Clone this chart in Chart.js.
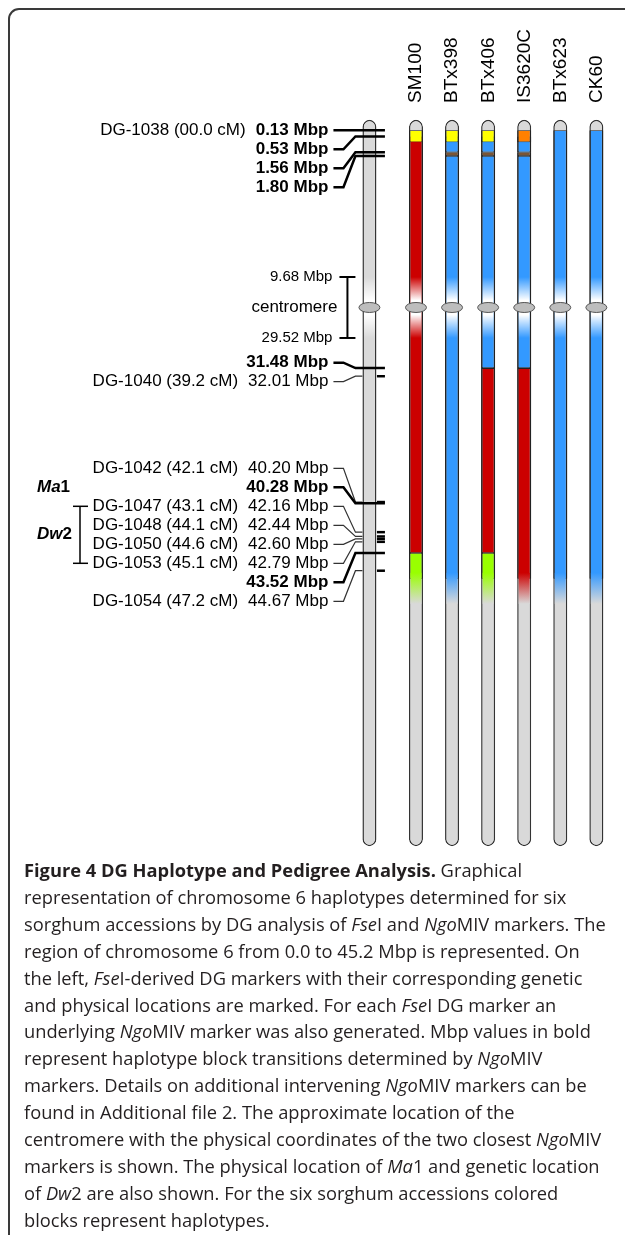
<!DOCTYPE html>
<html>
<head>
<meta charset="utf-8">
<script src="https://cdn.jsdelivr.net/npm/chart.js@4.4.1/dist/chart.umd.min.js"></script>
<style>
  html, body { margin: 0; padding: 0; background: #fff; }
  body { width: 625px; height: 1235px; overflow: hidden; position: relative; }
  #frame { position: absolute; left: 8px; top: 8px; width: 700px; height: 1300px;
           border: 2px solid #3a3a3a; border-radius: 11px; box-sizing: border-box; }
  #chart { position: absolute; left: 0; top: 0; }
  #caption { position: absolute; left: 24px; top: 857px; font-family: "Open Sans", sans-serif;
             font-size: 18.3px; line-height: 26.9px; color: #231f20; white-space: nowrap; }
</style>
</head>
<body>
<div id="frame"></div>
<canvas id="chart" width="625" height="860"></canvas>
<div id="caption">
<b>Figure 4 DG Haplotype and Pedigree Analysis.</b> Graphical<br>
representation of chromosome 6 haplotypes determined for six<br>
sorghum accessions by DG analysis of <i>Fse</i>I and <i>Ngo</i>MIV markers. The<br>
region of chromosome 6 from 0.0 to 45.2 Mbp is represented. On<br>
the left, <i>Fse</i>I-derived DG markers with their corresponding genetic<br>
and physical locations are marked. For each <i>Fse</i>I DG marker an<br>
underlying <i>Ngo</i>MIV marker was also generated. Mbp values in bold<br>
represent haplotype block transitions determined by <i>Ngo</i>MIV<br>
markers. Details on additional intervening <i>Ngo</i>MIV markers can be<br>
found in Additional file 2. The approximate location of the<br>
centromere with the physical coordinates of the two closest <i>Ngo</i>MIV<br>
markers is shown. The physical location of <i>Ma</i>1 and genetic location<br>
of <i>Dw</i>2 are also shown. For the six sorghum accessions colored<br>
blocks represent haplotypes.
</div>
<script>
// accessions shown as columns
const accessions = ['SM100', 'BTx398', 'BTx406', 'IS3620C', 'BTx623', 'CK60'];

// haplotype blocks per accession: [start Mbp, end Mbp, haplotype id]
const blocksSM100 = [[0.13, 0.53, 'h1'], [0.53, 43.52, 'h3'], [43.52, 45.2, 'h6']];
const blocksBTx398 = [[0.13, 0.53, 'h1'], [0.53, 1.56, 'h4'], [1.56, 1.80, 'h5'], [1.80, 45.2, 'h4']];
const blocksBTx406 = [[0.13, 0.53, 'h1'], [0.53, 1.56, 'h4'], [1.56, 1.80, 'h5'], [1.80, 31.48, 'h4'], [31.48, 43.52, 'h3'], [43.52, 45.2, 'h6']];
const blocksIS3620C = [[0.13, 0.53, 'h2'], [0.53, 1.56, 'h4'], [1.56, 1.80, 'h5'], [1.80, 31.48, 'h4'], [31.48, 45.2, 'h3']];
const blocksBTx623 = [[0.13, 45.2, 'h4']];
const blocksCK60 = [[0.13, 45.2, 'h4']];
const haplotypes = ['h1', 'h2', 'h3', 'h4', 'h5', 'h6'];

// markers on the reference chromosome (left side)
const markerMbp = [0.13, 0.53, 1.56, 1.80, 31.48, 32.01, 40.20, 40.28, 42.16, 42.44, 42.60, 42.79, 43.52, 44.67];
const markerDG = ['DG-1038 (00.0 cM)', '', '', '', '', 'DG-1040 (39.2 cM)', 'DG-1042 (42.1 cM)', '',
  'DG-1047 (43.1 cM)', 'DG-1048 (44.1 cM)', 'DG-1050 (44.6 cM)', 'DG-1053 (45.1 cM)', '', 'DG-1054 (47.2 cM)'];
// bold = haplotype block transition
const markerBold = [1, 1, 1, 1, 1, 0, 0, 1, 0, 0, 0, 0, 1, 0];

const centromereMbp = [9.68, 29.52];
const chromosomeMbp = [-0.55, 62.6]; // drawn extent incl. telomere caps
const regionEndMbp = 45.2;

// loci: Ma1 (physical), Dw2 (genetic interval)
const geneNames = ['Ma', 'Dw'];
const geneNums = ['1', '2'];
const geneFrom = [40.28, 42.16];
const geneTo = [40.28, 42.79];

// ---- styles ----
const HAP_COLOR = { h1: '#ffff00', h2: '#ff8000', h3: '#cc0000', h4: '#3399ff', h5: '#7a5536', h6: '#99ff00' };
const HAP_MIN_PX = { h1: 12, h2: 12 }; // short end blocks drawn a bit taller, as in the figure
const BODY_GRAY = '#d9d9d9';
const REF_COL = -1.29;
const FONT = '"Liberation Sans", Arial, sans-serif';

// the centromere region is drawn compressed
const CEN_SQUEEZE = 0.2;
function squash(v) {
  const a = centromereMbp[0], b = centromereMbp[1];
  if (v <= a) return v;
  if (v >= b) return a + (b - a) * CEN_SQUEEZE + (v - b);
  return a + (v - a) * CEN_SQUEEZE;
}

class CentromereScale extends Chart.LinearScale {
  getPixelForValue(v) {
    return v == null ? NaN : super.getPixelForValue(squash(v));
  }
}
CentromereScale.id = 'centromere';
CentromereScale.defaults = Chart.LinearScale.defaults;
Chart.register(CentromereScale);

const columnsBlocks = [blocksSM100, blocksBTx398, blocksBTx406, blocksIS3620C, blocksBTx623, blocksCK60];

// spread labels so they don't overlap, keeping them near their targets
function spreadLabels(targets, gap, minY) {
  const groups = targets.map((t, i) => ({ idx: [i], sum: t }));
  const place = g => Math.max(minY, g.sum / g.idx.length - (g.idx.length - 1) * gap / 2);
  let merged = true;
  while (merged) {
    merged = false;
    for (let k = 0; k < groups.length - 1; k++) {
      const a = groups[k], b = groups[k + 1];
      if (place(a) + a.idx.length * gap > place(b)) {
        a.idx.push(...b.idx);
        a.sum += b.sum;
        groups.splice(k + 1, 1);
        merged = true;
        break;
      }
    }
  }
  const out = [];
  groups.forEach(g => {
    const top = place(g);
    g.idx.forEach((i, j) => { out[i] = top + j * gap; });
  });
  return out;
}

function line(ctx, pts, w, color) {
  ctx.save();
  ctx.lineWidth = w;
  ctx.strokeStyle = color;
  ctx.beginPath();
  ctx.moveTo(pts[0][0], pts[0][1]);
  for (let i = 1; i < pts.length; i++) ctx.lineTo(pts[i][0], pts[i][1]);
  ctx.stroke();
  ctx.restore();
}

const karyoPlugin = {
  id: 'karyo',
  afterDatasetsDraw(chart) {
    const { ctx, scales: { x, y } } = chart;
    const half = 5.5;
    const cols = [REF_COL].concat(accessions.map((a, i) => i));
    ctx.save();

    // fade around the centromere
    const y0 = y.getPixelForValue(centromereMbp[0]);
    const y1 = y.getPixelForValue(centromereMbp[1]);
    const g = ctx.createLinearGradient(0, y0, 0, y1);
    g.addColorStop(0, 'rgba(255,255,255,0)');
    g.addColorStop(0.38, '#ffffff');
    g.addColorStop(0.62, '#ffffff');
    g.addColorStop(1, 'rgba(255,255,255,0)');
    cols.forEach(c => {
      const px = x.getPixelForValue(c);
      ctx.fillStyle = g;
      ctx.fillRect(px - half, y0, half * 2, y1 - y0);
    });

    // end of represented region fades into the gray chromosome
    const ye = y.getPixelForValue(regionEndMbp);
    columnsBlocks.forEach((blocks, i) => {
      const last = blocks[blocks.length - 1];
      const px = x.getPixelForValue(i);
      const gr = ctx.createLinearGradient(0, ye - 6, 0, ye + 25);
      gr.addColorStop(0, HAP_COLOR[last[2]]);
      gr.addColorStop(1, BODY_GRAY);
      ctx.fillStyle = gr;
      ctx.fillRect(px - half, ye - 6, half * 2, 31);
    });

    // centromere ellipses
    const yc = y.getPixelForValue((centromereMbp[0] + centromereMbp[1]) / 2);
    cols.forEach(c => {
      const px = x.getPixelForValue(c);
      ctx.beginPath();
      ctx.ellipse(px, yc, 10.5, 5, 0, 0, Math.PI * 2);
      ctx.fillStyle = '#bdbdbd';
      ctx.fill();
      ctx.lineWidth = 1;
      ctx.strokeStyle = '#555';
      ctx.stroke();
    });
    ctx.restore();
  },
  afterDraw(chart) {
    const { ctx, scales: { x, y } } = chart;
    const refX = x.getPixelForValue(REF_COL);
    const labelRight = refX - 41;
    const targets = markerMbp.map(v => y.getPixelForValue(v));
    const ly = spreadLabels(targets, 19, targets[0]);

    ctx.save();
    ctx.textBaseline = 'middle';
    ctx.fillStyle = '#000';

    markerMbp.forEach((v, i) => {
      const bold = markerBold[i] === 1;
      const txt = v.toFixed(2) + ' Mbp';
      ctx.textAlign = 'right';
      ctx.font = (bold ? 'bold ' : '') + '17px ' + FONT;
      ctx.fillText(txt, labelRight, ly[i]);
      const w = ctx.measureText(txt).width;
      if (markerDG[i]) {
        ctx.font = '17px ' + FONT;
        ctx.fillText(markerDG[i], labelRight - w - 10, ly[i]);
      }
      const ty = targets[i];
      if (bold) {
        line(ctx, [[labelRight + 5, ly[i]], [refX - 26, ly[i]], [refX - 14, ty], [refX + 15.5, ty]], 2.5, '#000');
      } else {
        line(ctx, [[labelRight + 5, ly[i]], [refX - 26, ly[i]], [refX - 14, ty], [refX - 7, ty]], 1.2, '#333');
        line(ctx, [[refX + 7.5, ty], [refX + 15.5, ty]], 2.5, '#000');
      }
    });

    // centromere bracket and labels
    const y0 = y.getPixelForValue(centromereMbp[0]);
    const y1 = y.getPixelForValue(centromereMbp[1]);
    const yc = (y0 + y1) / 2;
    line(ctx, [[refX - 30, y0], [refX - 14, y0]], 2, '#000');
    line(ctx, [[refX - 30, y1], [refX - 14, y1]], 2, '#000');
    line(ctx, [[refX - 22, y0], [refX - 22, y1]], 2, '#000');
    ctx.textAlign = 'right';
    ctx.font = '15px ' + FONT;
    ctx.fillText(centromereMbp[0].toFixed(2) + ' Mbp', refX - 37, y0);
    ctx.fillText(centromereMbp[1].toFixed(2) + ' Mbp', refX - 37, y1);
    ctx.font = '17px ' + FONT;
    ctx.fillText('centromere', refX - 32, yc);

    // loci
    const rowOf = v => ly[markerMbp.indexOf(v)];
    geneNames.forEach((name, i) => {
      const ya = rowOf(geneFrom[i]);
      const yb = rowOf(geneTo[i]);
      const ym = (ya + yb) / 2;
      if (yb > ya) {
        line(ctx, [[73, ya], [88, ya]], 1.5, '#000');
        line(ctx, [[73, yb], [88, yb]], 1.5, '#000');
        line(ctx, [[80, ya], [80, yb]], 1.5, '#000');
      }
      ctx.textAlign = 'left';
      ctx.font = 'italic bold 17px ' + FONT;
      ctx.fillText(name, 37, ym);
      const w = ctx.measureText(name).width;
      ctx.font = 'bold 17px ' + FONT;
      ctx.fillText(geneNums[i], 37 + w, ym);
    });
    ctx.restore();
  }
};

const bodyData = [REF_COL].concat(accessions.map((a, i) => i))
  .map(c => ({ x: c, y: chromosomeMbp.slice() }));

const hapDatasets = haplotypes.map(h => {
  const data = [];
  columnsBlocks.forEach((blocks, i) => {
    blocks.forEach(b => { if (b[2] === h) data.push({ x: i, y: [b[0], b[1]] }); });
  });
  return {
    label: h,
    data: data,
    backgroundColor: HAP_COLOR[h],
    borderColor: '#222',
    borderWidth: { left: 1.5, right: 1.5, top: 0.8, bottom: 0.8 },
    minBarLength: HAP_MIN_PX[h] || 0,
    order: 1
  };
});

const ctx = document.getElementById('chart').getContext('2d');
new Chart(ctx, {
  type: 'bar',
  data: {
    datasets: [{
      label: 'chromosome 6',
      data: bodyData,
      backgroundColor: BODY_GRAY,
      borderColor: '#333',
      borderWidth: 1.5,
      borderRadius: 7,
      order: 2
    }].concat(hapDatasets)
  },
  options: {
    responsive: false,
    animation: false,
    layout: { padding: { left: 333, right: 7, top: 19, bottom: 10 } },
    plugins: { legend: { display: false }, tooltip: { enabled: false } },
    datasets: { bar: { barThickness: 14, grouped: false, borderSkipped: false, inflateAmount: 0 } },
    scales: {
      x: {
        type: 'linear',
        position: 'top',
        min: -2.3,
        max: 5.6,
        offset: false,
        grid: { display: false, drawTicks: false },
        border: { display: false },
        afterBuildTicks: s => { s.ticks = accessions.map((a, i) => ({ value: i })); },
        ticks: {
          autoSkip: false,
          minRotation: 90,
          maxRotation: 90,
          padding: 10,
          labelOffset: 23,
          color: '#000',
          font: { family: 'Liberation Sans', size: 19 },
          callback: v => accessions[v]
        }
      },
      y: {
        type: 'centromere',
        reverse: true,
        display: false,
        min: squash(-1),
        max: squash(62.85)
      }
    }
  },
  plugins: [karyoPlugin]
});
</script>
</body>
</html>
